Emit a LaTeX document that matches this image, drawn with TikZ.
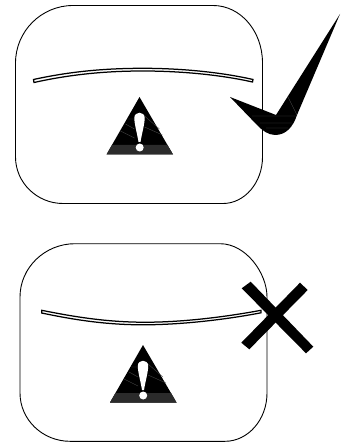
\documentclass[tikz,border=0pt]{standalone}
\definecolor{bandgray}{HTML}{2B2B2B}
\definecolor{streak}{HTML}{4A4A4A}
\tikzset{
  outline/.style={draw=black,line width=0.9pt,fill=white},
  band/.style={draw=black,line width=1.25pt,fill=white},
  solidmark/.style={fill=black,draw=none},
  streakline/.style={draw=streak,line width=0.35pt},
  warning/.pic={
    \fill[black] (0,0) -- (-33,57.5) -- (33.5,57.5) -- cycle;
    \fill[bandgray] (-27.5,48) -- (-33,57.5) -- (33.5,57.5) -- (28,48) -- cycle;
    \draw[streakline] (-14,27) -- (-5,32) (-19,34) -- (-5,41) (5,19) -- (20,32) (5,30) -- (23,38) (-12,22) -- (-5,22);
    \fill[white] (-5.2,21) .. controls (-5.2,14) and (5.2,14) .. (5.2,21)
       .. controls (5.2,27) and (2,38) .. (1,45) -- (-1,45)
       .. controls (-2,38) and (-5.2,27) .. (-5.2,21) -- cycle;
    \fill[white] (0.2,50.5) circle (4);
  },
}
\begin{document}
\begin{tikzpicture}[x=1pt,y=-1pt]
\useasboundingbox (0,0) rectangle (346,443);
% upper panel
\draw[outline] (73,5.5) -- (213,5.5)
  .. controls (240.5,5.5) and (262.5,31) .. (262.5,63) -- (262.5,157)
  .. controls (262.5,182.5) and (244.7,203.5) .. (223,203.5) -- (63,203.5)
  .. controls (36.9,203.5) and (15.5,182.5) .. (15.5,157) -- (15.5,63)
  .. controls (15.5,31.3) and (41.3,5.5) .. (73,5.5) -- cycle;
\draw[band] (33.5,79.5) .. controls (70,71.5) and (105,68.3) .. (143,68.3)
  .. controls (180,68.3) and (220,72) .. (253,79.5)
  -- (252.5,82) .. controls (220,74.7) and (180,71) .. (143,71)
  .. controls (105,71) and (70,74.5) .. (34,82.5) -- cycle;
\pic at (139.5,97) {warning};
\fill[solidmark] (230,97) -- (276,115) -- (340,14) -- (297,115)
  .. controls (293,127) and (286,135) .. (275,135)
  .. controls (268,135) and (262,130) .. (258,126) -- cycle;
\draw[streakline] (252,116) -- (296,116) (260,123) -- (292,123) (266,128) -- (288,128) (288,97) -- (297,115);
% lower panel
\draw[outline] (75,243.7) -- (220,243.7)
  .. controls (245.9,243.7) and (267,273) .. (267,297) -- (267,393)
  .. controls (267,419.6) and (248.1,441.3) .. (225,441.3) -- (70,441.3)
  .. controls (42.5,441.3) and (20,419.6) .. (20,393) -- (20,297)
  .. controls (20,267.7) and (44.8,243.7) .. (75,243.7) -- cycle;
\draw[band] (41.7,310.3) .. controls (75,317) and (105,321.7) .. (140,322.2)
  .. controls (180,322.7) and (225,317) .. (261,310.3)
  -- (261,312.8) .. controls (225,319.7) and (180,325) .. (140,324.8)
  .. controls (105,324.5) and (75,320) .. (41.7,313) -- cycle;
\pic at (143,345) {warning};
\fill[solidmark] (241.7,288.3) -- (250.7,281.7) -- (313.3,346.7) -- (306,353.3) -- cycle;
\fill[solidmark] (241.3,342.7) -- (300,282.7) -- (307.7,290) -- (249.3,349.3) -- cycle;
\end{tikzpicture}
\end{document}
